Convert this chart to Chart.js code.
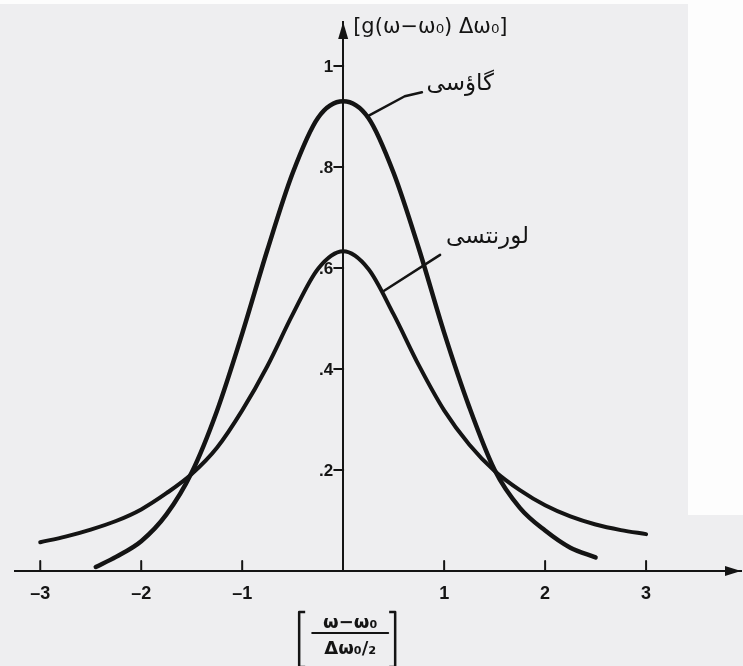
<!DOCTYPE html>
<html><head><meta charset="utf-8">
<script src="https://cdn.jsdelivr.net/npm/chart.js@4.4.0/dist/chart.umd.min.js"></script>
<style>
html,body{margin:0;padding:0;background:#eeeef0;}
#wrap{position:relative;width:743px;height:666px;overflow:hidden;background:#eeeef0;}
#white{position:absolute;left:688px;top:0;width:55px;height:515px;background:#fdfdfd;}
#topw{position:absolute;left:0;top:0;width:743px;height:4px;background:#fdfdfd;}
canvas{position:absolute;left:0;top:0;}
</style></head><body>
<div id="wrap"><div id="white"></div><div id="topw"></div><canvas id="c" width="743" height="666"></canvas></div>
<script>
// x = (ω-ω0)/(Δω0/2),  y = g(ω-ω0)·Δω0
const gaussX = [-2.45,-2.25,-2.0,-1.75,-1.5,-1.25,-1.0,-0.75,-0.5,-0.25,0,0.25,0.5,0.75,1.0,1.25,1.5,1.75,2.0,2.25,2.5];
const gaussY = [0.008,0.028,0.059,0.112,0.195,0.317,0.47,0.636,0.788,0.897,0.93,0.897,0.788,0.638,0.472,0.324,0.2,0.125,0.08,0.046,0.027];
const lorX = [-3,-2.75,-2.5,-2.25,-2.0,-1.75,-1.5,-1.25,-1.0,-0.75,-0.5,-0.25,0,0.25,0.5,0.75,1.0,1.25,1.5,1.75,2.0,2.25,2.5,2.75,3];
const lorY = [0.057,0.068,0.082,0.099,0.122,0.154,0.192,0.244,0.318,0.406,0.508,0.598,0.633,0.598,0.508,0.407,0.318,0.25,0.198,0.16,0.13,0.108,0.092,0.081,0.073];
const xTicks = [-3,-2,-1,1,2,3];
const yTicks = [0.2,0.4,0.6,0.8,1];
const gaussLabel = 'گاؤسی';
const lorLabel = 'لورنتسی';
const yTitle = '[g(ω−ω₀) Δω₀]';
const xTitleNum = 'ω−ω₀';
const xTitleDen = 'Δω₀/₂';

const INK = '#141414';
const TICK_FONT = 'bold 17px "Liberation Sans"';

const decor = {
  id: 'decor',
  afterDraw(chart) {
    const ctx = chart.ctx, xs = chart.scales.x, ys = chart.scales.y, a = chart.chartArea;
    const x0 = xs.getPixelForValue(0), y0 = ys.getPixelForValue(0);
    const P = (x, y) => [xs.getPixelForValue(x), ys.getPixelForValue(y)];
    ctx.save();
    ctx.strokeStyle = INK; ctx.fillStyle = INK; ctx.lineCap = 'round'; ctx.lineJoin = 'round';
    // x tick marks (upward)
    ctx.lineWidth = 2;
    xTicks.forEach(v => {
      const px = xs.getPixelForValue(v);
      ctx.beginPath(); ctx.moveTo(px, y0); ctx.lineTo(px, y0 - 10); ctx.stroke();
    });
    // y tick marks and labels (left of the axis)
    ctx.font = TICK_FONT; ctx.textAlign = 'right'; ctx.textBaseline = 'middle';
    yTicks.forEach(v => {
      const py = ys.getPixelForValue(v);
      ctx.beginPath(); ctx.moveTo(x0, py); ctx.lineTo(x0 - 9, py); ctx.stroke();
      const lab = Math.abs(v - 1) < 1e-9 ? '1' : '.' + Math.round(v * 10);
      ctx.fillText(lab, x0 - 10, py + 1);
    });
    // arrows
    ctx.beginPath(); ctx.moveTo(a.right, y0); ctx.lineTo(a.right - 16, y0 - 5); ctx.lineTo(a.right - 16, y0 + 5); ctx.closePath(); ctx.fill();
    ctx.beginPath(); ctx.moveTo(x0, a.top); ctx.lineTo(x0 - 5, a.top + 17); ctx.lineTo(x0 + 5, a.top + 17); ctx.closePath(); ctx.fill();
    // leaders
    ctx.lineWidth = 2.5;
    let p1 = P(0.24, 0.90), p2 = P(0.61, 0.94), p3 = P(0.78, 0.948);
    ctx.beginPath(); ctx.moveTo(...p1); ctx.lineTo(...p2); ctx.lineTo(...p3); ctx.stroke();
    let q1 = P(0.39, 0.553), q2 = P(0.96, 0.626);
    ctx.beginPath(); ctx.moveTo(...q1); ctx.lineTo(...q2); ctx.stroke();
    // Persian labels
    ctx.direction = 'rtl';
    ctx.textAlign = 'center'; ctx.textBaseline = 'middle';
    ctx.font = '23px "DejaVu Sans"';
    let t = P(1.16, 0.965); ctx.fillText(gaussLabel, t[0], t[1]);
    t = P(1.43, 0.661); ctx.fillText(lorLabel, t[0], t[1]);
    ctx.direction = 'ltr';
    // y title
    ctx.textAlign = 'left';
    ctx.font = '21px "DejaVu Sans"';
    ctx.fillText(yTitle, x0 + 10, a.top + 6);
    // x title fraction
    ctx.textAlign = 'center';
    ctx.font = 'bold 18px "DejaVu Sans"';
    ctx.fillText(xTitleNum, x0 + 7, y0 + 52);
    ctx.fillText(xTitleDen, x0 + 7, y0 + 78);
    ctx.lineWidth = 2;
    ctx.beginPath(); ctx.moveTo(x0 - 31, y0 + 62); ctx.lineTo(x0 + 45, y0 + 62); ctx.stroke();
    ctx.lineCap = 'butt';
    ctx.lineWidth = 2.5;
    ctx.beginPath(); ctx.moveTo(x0 - 38, y0 + 41); ctx.lineTo(x0 - 44, y0 + 41); ctx.lineTo(x0 - 44, y0 + 96); ctx.lineTo(x0 - 38, y0 + 96); ctx.stroke();
    ctx.beginPath(); ctx.moveTo(x0 + 46, y0 + 41); ctx.lineTo(x0 + 52, y0 + 41); ctx.lineTo(x0 + 52, y0 + 96); ctx.lineTo(x0 + 46, y0 + 96); ctx.stroke();
    ctx.restore();
  }
};

new Chart(document.getElementById('c'), {
  type: 'line',
  data: {
    datasets: [
      {label: 'Gaussian', data: gaussX.map((x, i) => ({x, y: gaussY[i]})), borderColor: INK, borderWidth: 4.5, cubicInterpolationMode: 'monotone', pointRadius: 0, fill: false, borderCapStyle: 'round'},
      {label: 'Lorentzian', data: lorX.map((x, i) => ({x, y: lorY[i]})), borderColor: INK, borderWidth: 4, cubicInterpolationMode: 'monotone', pointRadius: 0, fill: false, borderCapStyle: 'round'}
    ]
  },
  options: {
    responsive: false, animation: false, devicePixelRatio: 1,
    layout: {padding: {left: 15, right: 2, top: 22, bottom: 95}},
    plugins: {legend: {display: false}, tooltip: {enabled: false}},
    scales: {
      x: {
        type: 'linear', min: -3.25, max: 3.94, position: {y: 0},
        afterBuildTicks: s => { s.ticks = xTicks.map(v => ({value: v})); },
        grid: {display: false},
        border: {display: true, color: INK, width: 2},
        ticks: {color: INK, font: {family: '"Liberation Sans"', size: 18, weight: 'bold'}, padding: 4, autoSkip: false, maxRotation: 0,
          callback: v => (v < 0 ? '–' + Math.abs(v) : String(v))}
      },
      y: {
        type: 'linear', min: 0, max: 1.087, position: {x: 0},
        afterBuildTicks: s => { s.ticks = yTicks.map(v => ({value: v})); },
        grid: {display: false},
        border: {display: true, color: INK, width: 2},
        ticks: {display: false}
      }
    }
  },
  plugins: [decor]
});
</script>
</body></html>
